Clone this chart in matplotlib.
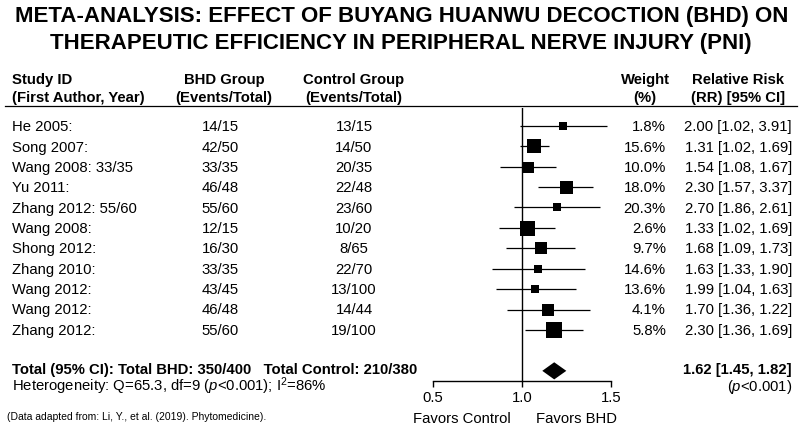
#!/usr/bin/env python
# forest plot: BHD vs control in peripheral nerve injury

import numpy as np
import matplotlib
matplotlib.use('Agg')
import matplotlib.pyplot as plt
from matplotlib.lines import Line2D

#------------------------------------------------------------------------------
# data
#------------------------------------------------------------------------------
studies = ['He 2005:', 'Song 2007:', 'Wang 2008: 33/35', 'Yu 2011:',
           'Zhang 2012: 55/60', 'Wang 2008:', 'Shong 2012:', 'Zhang 2010:',
           'Wang 2012:', 'Wang 2012:', 'Zhang 2012:']
bhd = ['14/15', '42/50', '33/35', '46/48', '55/60', '12/15', '16/30',
       '33/35', '43/45', '46/48', '55/60']
control = ['13/15', '14/50', '20/35', '22/48', '23/60', '10/20', '8/65',
           '22/70', '13/100', '14/44', '19/100']
weights = [1.8, 15.6, 10.0, 18.0, 20.3, 2.6, 9.7, 14.6, 13.6, 4.1, 5.8]
rr_text = ['2.00 [1.02, 3.91]', '1.31 [1.02, 1.69]', '1.54 [1.08, 1.67]',
           '2.30 [1.57, 3.37]', '2.70 [1.86, 2.61]', '1.33 [1.02, 1.69]',
           '1.68 [1.09, 1.73]', '1.63 [1.33, 1.90]', '1.99 [1.04, 1.63]',
           '1.70 [1.36, 1.22]', '2.30 [1.36, 1.69]']

# where the marks are actually drawn on the axis
rr_point = [1.23, 1.067, 1.034, 1.245, 1.195, 1.028, 1.105, 1.092, 1.075,
            1.146, 1.178]
rr_low = [0.99, 0.987, 0.878, 1.092, 0.955, 0.871, 0.912, 0.833, 0.852,
          0.916, 1.017]
rr_high = [1.48, 1.15, 1.19, 1.399, 1.436, 1.187, 1.30, 1.352, 1.301,
           1.38, 1.34]
pooled = [1.181, 1.114, 1.249]   # point, low, high

xticks = [0.5, 1.0, 1.5]
xtick_labels = ['0.5', '1.0', '1.5']

# square sizes in pixels (style)
box_px = [7.3, 14, 11, 13, 8.7, 15, 12, 8.7, 8.7, 12, 16]

#------------------------------------------------------------------------------
# fonts
#------------------------------------------------------------------------------
plt.rcParams['font.family'] = ['Liberation Sans', 'DejaVu Sans']
plt.rcParams['mathtext.fontset'] = 'custom'
plt.rcParams['mathtext.rm'] = 'Liberation Sans'
plt.rcParams['mathtext.it'] = 'Liberation Sans:italic'
plt.rcParams['mathtext.bf'] = 'Liberation Sans:bold'

FS = 10.7   # body text size
W, H = 800, 436
fig = plt.figure(figsize=(W / 100, H / 100), dpi=100)


def put(x, y, s, **kw):
    """text at pixel position (x from left, y from top), baseline aligned"""
    kw.setdefault('va', 'baseline')
    kw.setdefault('fontsize', FS)
    fig.text(x / W, 1 - y / H, s, **kw)


#------------------------------------------------------------------------------
# title
#------------------------------------------------------------------------------
put(402, 21.7, 'META-ANALYSIS: EFFECT OF BUYANG HUANWU DECOCTION (BHD) ON',
    ha='center', fontsize=16, fontweight='bold')
put(401, 49, 'THERAPEUTIC EFFICIENCY IN PERIPHERAL NERVE INJURY (PNI)',
    ha='center', fontsize=16, fontweight='bold')

#------------------------------------------------------------------------------
# column headers
#------------------------------------------------------------------------------
x_study, x_bhd, x_ctrl, x_w, x_rr = 11.5, 220, 354, 666, 792
put(x_study, 84, 'Study ID', fontweight='bold')
put(x_study, 101.7, '(First Author, Year)', fontweight='bold')
put(224, 84, 'BHD Group', ha='center', fontweight='bold')
put(224, 101.7, '(Events/Total)', ha='center', fontweight='bold')
put(x_ctrl, 84, 'Control Group', ha='center', fontweight='bold')
put(x_ctrl, 101.7, '(Events/Total)', ha='center', fontweight='bold')
put(645, 84, 'Weight', ha='center', fontweight='bold')
put(645, 101.7, '(%)', ha='center', fontweight='bold')
put(738, 84, 'Relative Risk', ha='center', fontweight='bold')
put(738, 101.7, '(RR) [95% CI]', ha='center', fontweight='bold')

fig.add_artist(Line2D([5 / W, 797 / W], [1 - 105.7 / H, 1 - 105.7 / H],
                      color='k', lw=0.9))

#------------------------------------------------------------------------------
# study rows
#------------------------------------------------------------------------------
row0, pitch = 131.3, 20.35
for i in range(len(studies)):
    yb = row0 + pitch * i
    put(x_study, yb, studies[i])
    put(x_bhd, yb, bhd[i], ha='center')
    put(x_ctrl, yb, control[i], ha='center')
    put(x_w, yb, '{:.1f}%'.format(weights[i]), ha='right')
    put(x_rr, yb, rr_text[i], ha='right')

put(x_study, 374.3,
    'Total (95% CI): Total BHD: 350/400   Total Control: 210/380',
    fontweight='bold')
put(x_rr, 373.7, '1.62 [1.45, 1.82]', ha='right', fontweight='bold')
put(x_study, 391, r'Heterogeneity: Q=65.3, df=9 ($p$<0.001); I$^{2}$=86%')
put(x_rr, 391, r'($p$<0.001)', ha='right')
put(7, 419.5, '(Data adapted from: Li, Y., et al. (2019). Phytomedicine).',
    fontsize=7.5)

#------------------------------------------------------------------------------
# forest panel
#------------------------------------------------------------------------------
top_px, bot_px = 108, 380.7
c0, cp = 125.8, 20.42   # centre of first row, row pitch (px)
ax = fig.add_axes([433 / W, 1 - bot_px / H, 178 / W, (bot_px - top_px) / H])
ax.set_xlim(0.5, 1.5)
ax.set_ylim((bot_px - c0) / cp, (top_px - c0) / cp)
ax.patch.set_alpha(0)

ys = np.arange(len(studies))
ax.axvline(1.0, color='k', lw=1.0, zorder=1)
ax.hlines(ys, rr_low, rr_high, color='k', lw=0.9, zorder=2, clip_on=False)
for i in range(len(studies)):
    ax.plot(rr_point[i], ys[i], marker='s', ms=box_px[i] * 0.72,
            color='k', mec='k', mew=0, zorder=3, clip_on=False)

yd = len(studies) + 1
half = 0.42
ax.fill([pooled[1], pooled[0], pooled[2], pooled[0]],
        [yd, yd - half, yd, yd + half], color='k', lw=0, zorder=3)

for s in ['top', 'left', 'right']:
    ax.spines[s].set_visible(False)
ax.spines['bottom'].set_linewidth(1.0)
ax.set_xticks(xticks)
ax.set_xticklabels(xtick_labels)
ax.set_yticks([])
ax.tick_params(axis='x', direction='out', length=4.3, width=1.0, pad=3.0,
               labelsize=FS)

put(462, 423, 'Favors Control', ha='center')
put(577, 423, 'Favors BHD', ha='center')

fig.savefig('out.png', dpi=100)
